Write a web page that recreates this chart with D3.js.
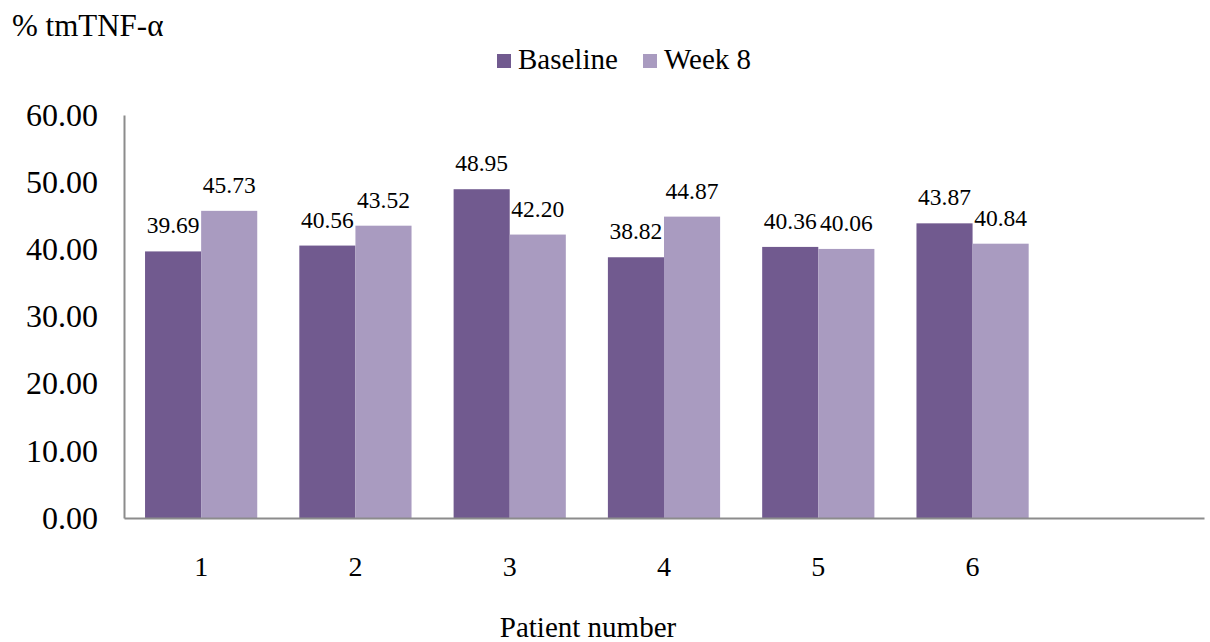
<!DOCTYPE html>
<html>
<head>
<meta charset="utf-8">
<script src="https://cdn.jsdelivr.net/npm/d3@7"></script>
<style>
    body { margin: 0; background: #fff; }
</style>
</head>
<body>
<div id="chart"></div>
<script>
const patients = ['1', '2', '3', '4', '5', '6', ''];
const seriesNames = ['Baseline', 'Week 8'];
const baseline = [39.69, 40.56, 48.95, 38.82, 40.36, 43.87];
const week8 = [45.73, 43.52, 42.20, 44.87, 40.06, 40.84];
const yTicks = [0, 10, 20, 30, 40, 50, 60];
const colors = ['#715a8f', '#a99bc0'];

const width = 1210, height = 642;
const serif = 'Liberation Serif';
const svg = d3.select('#chart').append('svg')
    .attr('width', width)
    .attr('height', height);

const x = d3.scaleBand()
    .domain(patients)
    .range([124, 1204])
    .padding(0);

const x1 = d3.scaleBand()
    .domain(seriesNames)
    .range([0, x.bandwidth()])
    .paddingInner(0)
    .paddingOuter(0.375);

const y = d3.scaleLinear()
    .domain([0, 60])
    .range([518, 115]);

// rows: one per patient with both values
const rows = baseline.map((v, i) => ({
    patient: patients[i],
    values: [
        {name: seriesNames[0], value: v},
        {name: seriesNames[1], value: week8[i]}
    ]
}));

const groups = svg.selectAll('.group')
    .data(rows)
    .enter().append('g')
    .attr('class', 'group')
    .attr('transform', d => `translate(${x(d.patient)},0)`);

groups.selectAll('rect')
    .data(d => d.values)
    .enter().append('rect')
    .attr('x', d => x1(d.name))
    .attr('y', d => y(d.value))
    .attr('width', x1.bandwidth())
    .attr('height', d => y(0) - y(d.value))
    .attr('fill', (d, i) => colors[i]);

groups.selectAll('.label')
    .data(d => d.values)
    .enter().append('text')
    .attr('class', 'label')
    .attr('x', d => x1(d.name) + x1.bandwidth() / 2)
    .attr('y', d => y(d.value) - 18)
    .attr('text-anchor', 'middle')
    .attr('font-family', serif)
    .attr('font-size', 23.5)
    .attr('fill', '#000')
    .text(d => d3.format('.2f')(d.value));

// Axes
const yAxis = svg.append('g')
    .attr('transform', 'translate(124,0)')
    .call(d3.axisLeft(y).tickValues(yTicks).tickFormat(d3.format('.2f')).tickSize(0).tickPadding(26));
yAxis.attr('font-family', serif).attr('font-size', 32);
yAxis.select('.domain').attr('stroke', '#8c8c8c').attr('stroke-width', 2);
yAxis.selectAll('text')
    .attr('font-family', serif)
    .attr('font-size', 32)
    .attr('fill', '#000');

const xAxis = svg.append('g')
    .attr('transform', 'translate(0,518)')
    .call(d3.axisBottom(x).tickSize(0).tickSizeOuter(0).tickPadding(38));
xAxis.attr('font-family', serif).attr('font-size', 28);
xAxis.select('.domain').attr('stroke', '#8c8c8c').attr('stroke-width', 2);
xAxis.selectAll('text')
    .attr('font-family', serif)
    .attr('font-size', 28)
    .attr('fill', '#000');

// Titles
svg.append('text')
    .attr('x', 12)
    .attr('y', 36)
    .attr('font-family', serif)
    .attr('font-size', 31)
    .text('% tmTNF-α');

svg.append('text')
    .attr('x', 588)
    .attr('y', 637)
    .attr('text-anchor', 'middle')
    .attr('font-family', serif)
    .attr('font-size', 29)
    .text('Patient number');

// Legend
const legendX = [497, 643];
const legend = svg.selectAll('.legend')
    .data(seriesNames)
    .enter().append('g')
    .attr('class', 'legend')
    .attr('transform', (d, i) => `translate(${legendX[i]},0)`);

legend.append('rect')
    .attr('x', 0)
    .attr('y', 54)
    .attr('width', 14)
    .attr('height', 14)
    .attr('fill', (d, i) => colors[i]);

legend.append('text')
    .attr('x', 21)
    .attr('y', 69)
    .attr('font-family', serif)
    .attr('font-size', 29)
    .text(d => d);
</script>
</body>
</html>
